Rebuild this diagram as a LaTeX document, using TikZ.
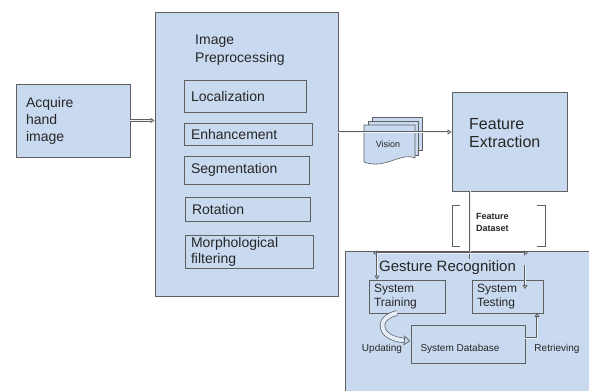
\documentclass[tikz,border=0pt]{standalone}
\usepackage{fontspec}
\setmainfont{Liberation Sans}
\usetikzlibrary{arrows.meta,shapes.geometric}
\definecolor{boxblue}{HTML}{C9DAF0}
\definecolor{edge}{HTML}{5F5F5F}
\definecolor{txt}{HTML}{262626}
\tikzset{
  box/.style={draw=edge, fill=boxblue, line width=0.8pt, rectangle, inner sep=0pt, text=txt},
  lbl/.style={inner sep=0pt, text=txt, align=left},
  dbl/.style={draw=edge, double=white!60!boxblue, double distance=0.9pt, line width=0.8pt},
  tip/.style={-{Triangle[open,length=4pt,width=5pt]}},
}
\begin{document}
\begin{tikzpicture}[x=1pt,y=-1pt]
\useasboundingbox (0,0) rectangle (589,391);
% Acquire
\node[box, minimum width=114pt, minimum height=73pt, text width=94pt, align=left, font=\fontsize{14}{17}\selectfont] (acq) at (73,120.5) {Acquire\\hand\\image};
% Preprocessing
\node[box, minimum width=183pt, minimum height=284pt] (pre) at (246.5,154) {};
\node[lbl, anchor=north west, font=\fontsize{14}{18}\selectfont] (pret) at (195,35) {Image\\Preprocessing};
\node[box, minimum width=122pt, minimum height=32pt, text width=108pt, align=left, font=\fontsize{14}{17}\selectfont] (loc) at (245,96) {Localization};
\node[box, minimum width=128pt, minimum height=22pt, text width=114pt, align=left, font=\fontsize{14}{17}\selectfont] (enh) at (248,134) {Enhancement};
\node[box, minimum width=125pt, minimum height=28pt, text width=111pt, align=left, font=\fontsize{14}{17}\selectfont] (seg) at (246.5,170) {Segmentation};
\node[box, minimum width=125pt, minimum height=24pt, text width=111pt, align=left, font=\fontsize{14}{17}\selectfont] (rot) at (247.5,209) {Rotation};
\node[box, minimum width=128pt, minimum height=33pt, text width=116pt, align=left, font=\fontsize{14}{16}\selectfont] (mor) at (249,251.5) {Morphological\\filtering};
% Feature extraction
\node[box, minimum width=115pt, minimum height=99pt] (fe) at (509.5,141.5) {};
\node[lbl, anchor=north west, font=\fontsize{16}{18}\selectfont] (fet) at (469,118) {Feature\\Extraction};
% Vision document stack
\begin{scope}[draw=edge, fill=boxblue, line width=0.6pt]
\filldraw (372,117) -- (422,117) -- (422,150) -- (372,150) -- cycle;
\filldraw (368,121) -- (418,121) -- (418,155) -- (368,155) -- cycle;
\filldraw (364,125) -- (415,125) -- (415,158) .. controls (400,152) and (385,170) .. (364,162) -- cycle;
\end{scope}
\node[lbl, font=\fontsize{9}{10}\selectfont] (vis) at (388,144) {Vision};
% Arrows top
\draw[dbl, tip] (acq.east) -- (pre.west |- acq.east);
\coordinate (pe) at (338,132);
\draw[dbl, tip] (pe) -- (fe.west |- pe);
% Gesture recognition
\fill[boxblue] (345,251) rectangle (589,391);
\draw[edge, line width=0.8pt] (345,391) -- (345,251) -- (589,251);
\node[lbl, anchor=west, font=\fontsize{15}{17}\selectfont] (grt) at (379,268) {Gesture Recognition};
\node[box, minimum width=76pt, minimum height=33pt, text width=66pt, align=left, font=\fontsize{12}{14}\selectfont] (st) at (407,296.5) {System\\Training};
\node[box, minimum width=71pt, minimum height=33pt, text width=61pt, align=left, font=\fontsize{12}{14}\selectfont] (stt) at (507.5,296.5) {System\\Testing};
% cylinder
\node[cylinder, shape border rotate=90, aspect=0.18, draw=edge, line width=0.8pt, minimum width=114pt, minimum height=38pt, inner sep=0pt, cylinder uses custom fill, cylinder body fill=boxblue, cylinder end fill=white!60!boxblue] (db) at (468,344.5) {};
\node[lbl, font=\fontsize{10}{12}\selectfont] (dbt) at (460,349) {System Database};
\node[lbl, font=\fontsize{10}{12}\selectfont] (upd) at (382,349) {Updating};
\node[lbl, font=\fontsize{10}{12}\selectfont] (ret) at (557,349) {Retrieving};
% Feature dataset bracket
\draw[edge, line width=0.6pt] (460,205) -- (452,205) -- (452,246) -- (460,246);
\draw[edge, line width=0.6pt] (537,205) -- (545,205) -- (545,246) -- (537,246);
\node[lbl, anchor=west, font=\bfseries\fontsize{9}{12}\selectfont] (fds) at (476,222) {Feature\\Dataset};
% connectors in gesture
\coordinate (j) at (470,253);
\coordinate (jl) at (373,253);
\coordinate (jr) at (528,253);
\coordinate (jd) at (470,259);
\draw[dbl] (fe.south -| j) -- (jd);
\draw[dbl, tip] (j) -- (jl);
\draw[dbl, tip] (j) -- (jr);
\coordinate (sl) at (377,253);
\draw[dbl, tip] (sl) -- (st.north -| sl);
\coordinate (ta) at (525,265);
\coordinate (tb) at (525,289);
\draw[dbl, tip] (ta) -- (tb);
\coordinate (ra) at (525,338);
\coordinate (rb) at (537,313);
\draw[dbl, tip] (ra) -| (rb);
% updating curved arrow
\coordinate (ua) at (397,313);
\coordinate (ub) at (410,341);
\draw[draw=edge, double=white!50!boxblue, double distance=4pt, line width=0.7pt, -{Triangle[open,length=6pt,width=10pt]}] (ua) .. controls (375,318) and (378,338) .. (ub);
\end{tikzpicture}
\end{document}
